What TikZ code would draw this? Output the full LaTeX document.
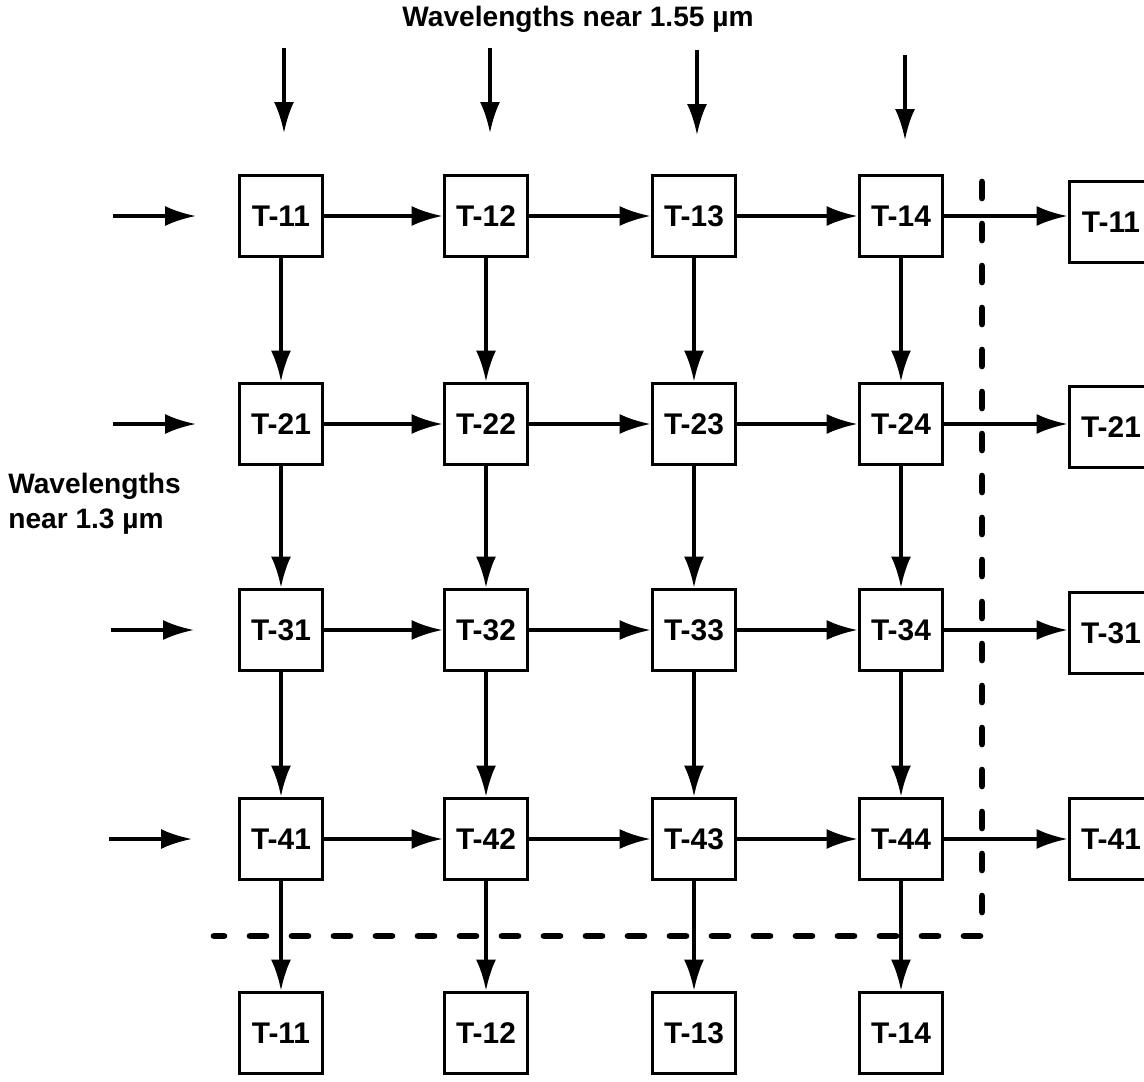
\documentclass[tikz,border=0pt]{standalone}
\usepackage{fontspec}
\setmainfont{Liberation Sans}
\usetikzlibrary{arrows.meta,positioning}

\tikzset{
  tbox/.style={draw, line width=2.2pt, minimum width=16.6mm, minimum height=16.2mm,
    inner sep=0pt, font=\bfseries\fontsize{17}{20}\selectfont},
  flow/.style={line width=2pt, -{Latex[length=6.2mm,width=4mm]}},
  border/.style={line width=3.8pt, line cap=round, dash pattern=on 3.2mm off 5.2mm},
  lbl/.style={font=\bfseries\fontsize{16}{20}\selectfont}
}

\begin{document}
\begin{tikzpicture}[x=0.2mm, y=-0.2mm]
        \useasboundingbox (0,0) rectangle (1144,1082);

        \node[lbl] (top) at (578,19) {Wavelengths near 1.55 µm};
        \node[lbl, align=left, anchor=west, inner sep=0pt] (side) at (8,504) {Wavelengths\\near 1.3 µm};

        \node[tbox] (t11) at (281,216) {T-11};
        \node[tbox] (t12) at (486,216) {T-12};
        \node[tbox] (t13) at (694,216) {T-13};
        \node[tbox] (t14) at (901,216) {T-14};
        \node[tbox] (t21) at (281,424) {T-21};
        \node[tbox] (t22) at (486,424) {T-22};
        \node[tbox] (t23) at (694,424) {T-23};
        \node[tbox] (t24) at (901,424) {T-24};
        \node[tbox] (t31) at (281,630) {T-31};
        \node[tbox] (t32) at (486,630) {T-32};
        \node[tbox] (t33) at (694,630) {T-33};
        \node[tbox] (t34) at (901,630) {T-34};
        \node[tbox] (t41) at (281,839) {T-41};
        \node[tbox] (t42) at (486,839) {T-42};
        \node[tbox] (t43) at (694,839) {T-43};
        \node[tbox] (t44) at (901,839) {T-44};

        \node[tbox] (r1) at (1111,222) {T-11};
        \node[tbox] (r2) at (1111,427) {T-21};
        \node[tbox] (r3) at (1111,633) {T-31};
        \node[tbox] (r4) at (1111,839) {T-41};

        \node[tbox] (b1) at (281,1033) {T-11};
        \node[tbox] (b2) at (486,1033) {T-12};
        \node[tbox] (b3) at (694,1033) {T-13};
        \node[tbox] (b4) at (901,1033) {T-14};

        % inputs from above
        \coordinate (u1) at (284,48);  \coordinate (v1) at (284,133);
        \coordinate (u2) at (490,48);  \coordinate (v2) at (490,133);
        \coordinate (u3) at (697,50);  \coordinate (v3) at (697,135);
        \coordinate (u4) at (905,55);  \coordinate (v4) at (905,140);
        \draw[flow] (u1) -- (v1);
        \draw[flow] (u2) -- (v2);
        \draw[flow] (u3) -- (v3);
        \draw[flow] (u4) -- (v4);

        % inputs from the left
        \coordinate (p1) at (113,216);  \coordinate (q1) at (196,216);
        \coordinate (p2) at (113,424);  \coordinate (q2) at (196,424);
        \coordinate (p3) at (111,630);  \coordinate (q3) at (194,630);
        \coordinate (p4) at (109,839);  \coordinate (q4) at (192,839);
        \draw[flow] (p1) -- (q1);
        \draw[flow] (p2) -- (q2);
        \draw[flow] (p3) -- (q3);
        \draw[flow] (p4) -- (q4);

        \draw[flow] (t11) -- (t12);
        \draw[flow] (t12) -- (t13);
        \draw[flow] (t13) -- (t14);
        \draw[flow] (t14) -- (t14 -| r1.west);
        \draw[flow] (t21) -- (t22);
        \draw[flow] (t22) -- (t23);
        \draw[flow] (t23) -- (t24);
        \draw[flow] (t24) -- (t24 -| r2.west);
        \draw[flow] (t31) -- (t32);
        \draw[flow] (t32) -- (t33);
        \draw[flow] (t33) -- (t34);
        \draw[flow] (t34) -- (t34 -| r3.west);
        \draw[flow] (t41) -- (t42);
        \draw[flow] (t42) -- (t43);
        \draw[flow] (t43) -- (t44);
        \draw[flow] (t44) -- (r4);

        \draw[flow] (t11) -- (t21);
        \draw[flow] (t21) -- (t31);
        \draw[flow] (t31) -- (t41);
        \draw[flow] (t41) -- (b1);
        \draw[flow] (t12) -- (t22);
        \draw[flow] (t22) -- (t32);
        \draw[flow] (t32) -- (t42);
        \draw[flow] (t42) -- (b2);
        \draw[flow] (t13) -- (t23);
        \draw[flow] (t23) -- (t33);
        \draw[flow] (t33) -- (t43);
        \draw[flow] (t43) -- (b3);
        \draw[flow] (t14) -- (t24);
        \draw[flow] (t24) -- (t34);
        \draw[flow] (t34) -- (t44);
        \draw[flow] (t44) -- (b4);

        % cut boundary
        \draw[border] (982,182) -- (982,936) -- (214,936);
\end{tikzpicture}
\end{document}
